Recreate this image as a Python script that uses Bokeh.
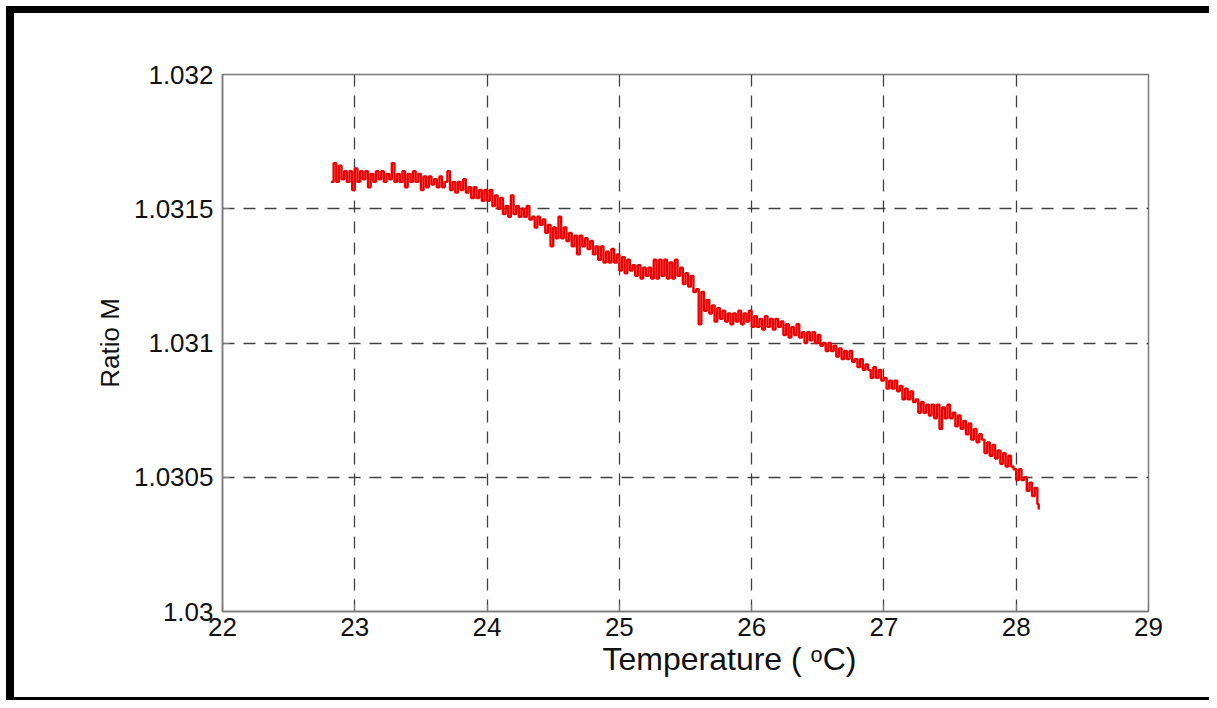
from bokeh.plotting import figure
from bokeh.models import Range1d, FixedTicker, Title, InlineStyleSheet
from bokeh.embed import file_html
from bokeh.resources import INLINE

# ---- data ----
temperature = [
    22.82, 22.84, 22.86, 22.88, 22.90, 22.92, 22.94, 22.96, 22.98, 23.00,
    23.02, 23.04, 23.06, 23.08, 23.10, 23.12, 23.14, 23.16, 23.18, 23.20,
    23.22, 23.24, 23.26, 23.28, 23.30, 23.32, 23.34, 23.36, 23.38, 23.40,
    23.42, 23.44, 23.46, 23.48, 23.50, 23.52, 23.54, 23.56, 23.58, 23.60,
    23.62, 23.64, 23.66, 23.68, 23.70, 23.72, 23.74, 23.76, 23.78, 23.80,
    23.82, 23.84, 23.86, 23.88, 23.90, 23.92, 23.94, 23.96, 23.98, 24.00,
    24.02, 24.04, 24.06, 24.08, 24.10, 24.12, 24.14, 24.16, 24.18, 24.20,
    24.22, 24.24, 24.26, 24.28, 24.30, 24.32, 24.34, 24.36, 24.38, 24.40,
    24.42, 24.44, 24.46, 24.48, 24.50, 24.52, 24.54, 24.56, 24.58, 24.60,
    24.62, 24.64, 24.66, 24.68, 24.70, 24.72, 24.74, 24.76, 24.78, 24.80,
    24.82, 24.84, 24.86, 24.88, 24.90, 24.92, 24.94, 24.96, 24.98, 25.00,
    25.02, 25.04, 25.06, 25.08, 25.10, 25.12, 25.14, 25.16, 25.18, 25.20,
    25.22, 25.24, 25.26, 25.28, 25.30, 25.32, 25.34, 25.36, 25.38, 25.40,
    25.42, 25.44, 25.46, 25.48, 25.50, 25.52, 25.54, 25.56, 25.58, 25.60,
    25.62, 25.64, 25.66, 25.68, 25.70, 25.72, 25.74, 25.76, 25.78, 25.80,
    25.82, 25.84, 25.86, 25.88, 25.90, 25.92, 25.94, 25.96, 25.98, 26.00,
    26.02, 26.04, 26.06, 26.08, 26.10, 26.12, 26.14, 26.16, 26.18, 26.20,
    26.22, 26.24, 26.26, 26.28, 26.30, 26.32, 26.34, 26.36, 26.38, 26.40,
    26.42, 26.44, 26.46, 26.48, 26.50, 26.52, 26.54, 26.56, 26.58, 26.60,
    26.62, 26.64, 26.66, 26.68, 26.70, 26.72, 26.74, 26.76, 26.78, 26.80,
    26.82, 26.84, 26.86, 26.88, 26.90, 26.92, 26.94, 26.96, 26.98, 27.00,
    27.02, 27.04, 27.06, 27.08, 27.10, 27.12, 27.14, 27.16, 27.18, 27.20,
    27.22, 27.24, 27.26, 27.28, 27.30, 27.32, 27.34, 27.36, 27.38, 27.40,
    27.42, 27.44, 27.46, 27.48, 27.50, 27.52, 27.54, 27.56, 27.58, 27.60,
    27.62, 27.64, 27.66, 27.68, 27.70, 27.72, 27.74, 27.76, 27.78, 27.80,
    27.82, 27.84, 27.86, 27.88, 27.90, 27.92, 27.94, 27.96, 27.98, 28.00,
    28.02, 28.04, 28.06, 28.08, 28.10, 28.12, 28.14, 28.16, 28.17,
]
ratio_m = [
    1.03160, 1.03167, 1.03160, 1.03166, 1.03161, 1.03164, 1.03160, 1.03164, 1.03157, 1.03165,
    1.03160, 1.03164, 1.03161, 1.03164, 1.03158, 1.03163, 1.03160, 1.03164, 1.03161, 1.03164,
    1.03160, 1.03163, 1.03161, 1.03167, 1.03160, 1.03163, 1.03160, 1.03164, 1.03158, 1.03163,
    1.03160, 1.03164, 1.03160, 1.03163, 1.03157, 1.03162, 1.03158, 1.03162, 1.03159, 1.03161,
    1.03158, 1.03162, 1.03158, 1.03160, 1.03164, 1.03157, 1.03160, 1.03156, 1.03160, 1.03157,
    1.03161, 1.03156, 1.03158, 1.03154, 1.03158, 1.03154, 1.03157, 1.03153, 1.03157, 1.03153,
    1.03157, 1.03151, 1.03155, 1.03150, 1.03154, 1.03148, 1.03151, 1.03147, 1.03155, 1.03148,
    1.03151, 1.03147, 1.03150, 1.03147, 1.03151, 1.03146, 1.03147, 1.03143, 1.03147, 1.03144,
    1.03146, 1.03141, 1.03144, 1.03136, 1.03143, 1.03139, 1.03147, 1.03139, 1.03143, 1.03138,
    1.03141, 1.03136, 1.03140, 1.03133, 1.03140, 1.03136, 1.03139, 1.03135, 1.03138, 1.03133,
    1.03136, 1.03131, 1.03136, 1.03130, 1.03134, 1.03130, 1.03135, 1.03130, 1.03133, 1.03127,
    1.03132, 1.03126, 1.03131, 1.03127, 1.03129, 1.03125, 1.03129, 1.03124, 1.03128, 1.03125,
    1.03128, 1.03124, 1.03131, 1.03124, 1.03131, 1.03125, 1.03131, 1.03124, 1.03130, 1.03124,
    1.03131, 1.03125, 1.03128, 1.03122, 1.03126, 1.03121, 1.03125, 1.03119, 1.03120, 1.03107,
    1.03119, 1.03112, 1.03116, 1.03111, 1.03114, 1.03108, 1.03113, 1.03109, 1.03112, 1.03108,
    1.03111, 1.03107, 1.03111, 1.03108, 1.03112, 1.03107, 1.03111, 1.03108, 1.03112, 1.03106,
    1.03110, 1.03106, 1.03109, 1.03105, 1.03110, 1.03106, 1.03109, 1.03105, 1.03109, 1.03106,
    1.03108, 1.03103, 1.03107, 1.03102, 1.03106, 1.03103, 1.03107, 1.03102, 1.03104, 1.03100,
    1.03104, 1.03101, 1.03104, 1.03100, 1.03103, 1.03099, 1.03100, 1.03097, 1.03100, 1.03097,
    1.03099, 1.03095, 1.03098, 1.03094, 1.03097, 1.03094, 1.03097, 1.03093, 1.03094, 1.03091,
    1.03094, 1.03090, 1.03092, 1.03090, 1.03087, 1.03091, 1.03087, 1.03090, 1.03086, 1.03087,
    1.03083, 1.03086, 1.03083, 1.03086, 1.03082, 1.03084, 1.03079, 1.03083, 1.03079, 1.03082,
    1.03078, 1.03079, 1.03074, 1.03078, 1.03074, 1.03077, 1.03073, 1.03077, 1.03072, 1.03077,
    1.03068, 1.03076, 1.03072, 1.03077, 1.03072, 1.03074, 1.03069, 1.03073, 1.03068, 1.03071,
    1.03066, 1.03070, 1.03064, 1.03068, 1.03063, 1.03066, 1.03064, 1.03059, 1.03063, 1.03058,
    1.03062, 1.03057, 1.03060, 1.03055, 1.03059, 1.03054, 1.03058, 1.03054, 1.03053, 1.03049,
    1.03053, 1.03049, 1.03050, 1.03045, 1.03048, 1.03043, 1.03046, 1.03040, 1.03038,
]

x_ticks = [22, 23, 24, 25, 26, 27, 28, 29]
y_ticks = [1.03, 1.0305, 1.031, 1.0315, 1.032]
y_tick_labels = ["1.03", "1.0305", "1.031", "1.0315", "1.032"]
x_label = "Temperature ( \u1d52C)"
y_label = "Ratio M"

FONT = "Liberation Sans"

bars_css = (
    "linear-gradient(#000,#000) 6px 6px / 8px 694px no-repeat, "
    "linear-gradient(#000,#000) 6px 6px / 1203px 7px no-repeat, "
    "linear-gradient(#000,#000) 6px 697px / 1203px 3px no-repeat, #ffffff"
)

p = figure(
    width=1209, height=700,
    x_range=Range1d(22, 29), y_range=Range1d(1.03, 1.032),
    output_backend="svg", toolbar_location=None,
    min_border_left=222, min_border_right=61,
    min_border_top=74, min_border_bottom=89,
    background_fill_color="white", border_fill_color=None,
    styles={"background": bars_css},
    stylesheets=[InlineStyleSheet(css=":host { background: " + bars_css + "; }")],
)

p.step(temperature, ratio_m, mode="after", line_color="#ee0000", line_width=2.4)

# frame
p.outline_line_color = "#7a7a7a"
p.outline_line_width = 1.5

# axes
for ax in (p.xaxis[0], p.yaxis[0]):
    ax.axis_line_color = "#7a7a7a"
    ax.axis_line_width = 1.5
    ax.major_tick_in = 7
    ax.major_tick_out = 0
    ax.major_tick_line_color = "#7a7a7a"
    ax.major_tick_line_width = 1.2
    ax.minor_tick_line_color = None
    ax.major_label_text_font = FONT
    ax.major_label_text_font_size = "26px"
    ax.major_label_text_color = "#111111"

p.xaxis[0].ticker = FixedTicker(ticks=x_ticks)
p.xaxis[0].major_label_standoff = 6
p.yaxis[0].ticker = FixedTicker(ticks=y_ticks)
p.yaxis[0].major_label_overrides = dict(zip(y_ticks, y_tick_labels))
p.yaxis[0].major_label_standoff = 9
p.yaxis[0].axis_label = y_label
p.yaxis[0].axis_label_text_font = FONT
p.yaxis[0].axis_label_text_font_size = "26px"
p.yaxis[0].axis_label_text_font_style = "normal"
p.yaxis[0].axis_label_text_color = "#111111"
p.yaxis[0].axis_label_standoff = 6

# grid
p.xgrid.ticker = FixedTicker(ticks=x_ticks[1:-1])
p.ygrid.ticker = FixedTicker(ticks=y_ticks[1:-1])
for g in (p.xgrid[0], p.ygrid[0]):
    g.grid_line_color = "#404040"
    g.grid_line_width = 1.3
    g.grid_line_dash = "12 9"

# x axis label (below the axis)
p.add_layout(Title(text=x_label, align="left", offset=380, standoff=0,
                   text_font=FONT, text_font_size="32px", text_font_style="normal",
                   text_color="#111111"), "below")

open("out.html", "w").write(file_html(p, INLINE))
